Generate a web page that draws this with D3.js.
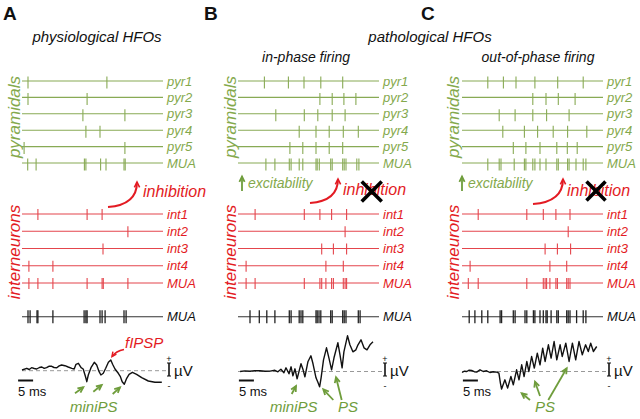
<!DOCTYPE html>
<html><head><meta charset="utf-8">
<script src="https://cdn.jsdelivr.net/npm/d3@7"></script>
<style>body{margin:0;background:#fff} svg{display:block;font-family:"Liberation Sans",Arial,sans-serif}</style>
</head><body><svg id="c" width="640" height="419"></svg>
<script>
// ---------- DATA ----------
const panelLetters = ["A", "B", "C"];
const pyrLabels = ["pyr1", "pyr2", "pyr3", "pyr4", "pyr5", "MUA"];
const intLabels = ["int1", "int2", "int3", "int4", "MUA"];
const timeDomain = [0, 47]; // ms

// spike times (ms) - panel A physiological
const pyrA = [[2, 28.3], [2, 21.7], [20.3, 34.3], [21.3, 26], [0.7, 34.3],
  [1.9, 4.7, 20.8, 21.3, 26.2, 28, 34, 34.4]];
const intA = [[5.3, 21.7, 26.7], [35.3], [27], [2.3, 10.3],
  [2.3, 5.3, 10.3, 21.7, 26.7, 27.1, 35.3]];
const muaA = [2, 2.7, 5, 5.3, 10.3, 20.7, 21.3, 21.7, 26, 26.7, 27.7, 34, 34.7];
// panel B in-phase
const pyrB = [[8.8, 16.8, 22, 27.6, 34.9], [27.3, 31.4, 35.3, 39.3], [12.6, 22.1, 26.6, 31.4, 35.7],
  [20.4, 26, 30.4, 35.1, 40.1], [17.3, 21.6, 26, 30.4, 34.9],
  [9.3, 12.3, 17.1, 17.7, 20.4, 21.6, 26, 26.4, 27.1, 30.9, 31.4, 34.9, 35.4, 36, 39.6, 40.3]];
const intB = [[5.7, 22.1, 27.3, 31.2, 36.2], [35.7], [27.9, 31.8, 36.2], [2.7, 29.3, 35.1],
  [2.7, 5.7, 22.1, 27.3, 27.9, 29.3, 31.2, 31.8, 35.1, 35.7, 36.2]];
const muaB = [4, 7.1, 9.6, 12.3, 17.1, 17.7, 20.4, 21, 21.6, 26, 26.4, 27, 27.6, 30.9, 31.4,
  34.9, 35.4, 36, 40.1, 40.7];
// panel C out-of-phase
const pyrC = [[8.6, 13.8, 18, 24.3, 31.9, 40.4], [23.6, 28, 32.1, 37.7], [12.4, 17.7, 23.6, 28.2, 35.7],
  [13.6, 20.8, 25.2, 30.4, 35.2, 41.6], [17.1, 21.3, 26, 31.6, 35.1, 38.4],
  [8.6, 12.4, 13, 17.4, 20.8, 21.3, 23.6, 24.3, 26, 28, 31.6, 32.1, 35.2, 35.7, 38, 40.4, 41.3]];
const intC = [[5.4, 21.6, 27.1, 31.3, 36], [35.4], [27.7, 31.8, 36.2], [2.7, 29.3, 34.9],
  [2.1, 5.4, 21.6, 27.1, 27.7, 28.2, 29.3, 31.3, 31.8, 34.9, 35.4, 36]];
const muaC = [2.4, 4.3, 6.6, 8.6, 12.7, 13.2, 17.1, 17.7, 21, 21.6, 23.8, 24.3, 26, 27.1, 28, 28.4,
  29.7, 31.6, 32.1, 34.9, 35.4, 36, 38.2, 40.4, 41.3];

// field potentials [ms, µV(a.u.)]
const lfpA = [[0, 0.7], [1.6, 2.4], [2.4, 1.2], [3.2, 3], [4.1, 2.2], [4.9, 1.7], [5.8, 3.2], [6.6, 3.7], [7.4, 2.3],
  [8.2, 3], [9.1, 4.6], [9.9, 4.4], [10.7, 3.2], [11.6, 3], [12.4, 4.8], [13.2, 5.7], [14.3, 5], [15.4, 3.7],
  [16.6, 2.4], [17.4, 1.7], [18, 6.4], [18.8, 7.4], [19.7, 3], [20.4, 1.7], [21.2, -6.3], [21.6, -11],
  [22.1, -4.3], [23, 3], [24.1, 8.4], [24.9, 5.7], [25.7, -1], [26.3, -4.3], [27.1, -2.6], [27.9, 2.4],
  [28.8, 8.4], [29.6, 10.7], [30.2, 6.4], [31, 1.7], [32.1, -2.6], [32.8, -6], [33.4, -11], [34.1, -13.6],
  [34.9, -7.6], [35.7, -3.6], [36.8, -1.6], [38.2, -3.6], [39.9, -7], [42.1, -10.3], [44.3, -11.6], [46.6, -11.6]];
const lfpB = [[0.7, 0], [2.3, 0.6], [4, 0.2], [5.6, 0.9], [7.3, 0.7], [9, 0.2], [10.7, 0.4], [12.3, 1.2],
  [13.3, -0.3], [14.3, 2.2], [15.3, -1.3], [16, 3.7], [17, -2.3], [17.7, 4.7], [18.3, -4.3], [19, 2.7],
  [19.7, -7.3], [20.3, -0.3], [21, 7.7], [21.7, 1.7], [22.3, -5.3], [23.3, 9.7], [24.3, 15.7], [25, 7.7],
  [26, -6.3], [26.7, -11.3], [27.2, -15.3], [27.7, -6.3], [28.5, 11.7], [29.5, 23.7], [30.3, 13.7],
  [31.2, 1.7], [32, 13.7], [33.3, 28.7], [34, 16.7], [34.7, 3.7], [35.3, 19.7], [36.5, 35.7], [37.3, 26.7],
  [38.3, 19.7], [39.3, 21.7], [40, 26.7], [41, 31.7], [42, 23.7], [43, 21.7], [44, 26.7], [45, 29.7]];
const lfpC = [[0, -1], [0.8, 0.3], [1.6, 0], [2.4, 1.4], [3.2, 1], [4.1, -0.2], [4.9, -0.6], [6, 1.7],
  [7.1, 0], [8.2, 0.7], [9.3, -1], [10.4, -0.3], [11.6, -0.6], [12.3, -1.6], [12.8, -11.6], [13.2, -17.6],
  [14.3, -8.3], [15.2, -16.6], [16.3, -5], [17.1, -13.3], [18.2, 1.7], [19, -8.3], [19.9, 6.7], [20.7, -5],
  [21.6, 10], [22.3, 0], [23.2, 15], [24.1, 3.4], [25.1, 18.4], [26, 6.7], [26.9, 23.4], [27.7, 10],
  [28.8, 26.7], [29.7, 13.4], [30.7, 30], [31.6, 11.7], [32.7, 26.7], [33.4, 15], [34.6, 28.4], [35.7, 10],
  [36.8, 28.4], [37.9, 11.7], [39, 30], [40.1, 16.7], [41.2, 26.7], [42.1, 20], [42.9, 28.4], [43.8, 20],
  [44.9, 25]];

// ---------- DRAWING ----------
const GREEN = "#88aa55", GREEN_T = "#84a94c", GREEN_A = "#6f9d3c";
const RED = "#e4454c", RED_T = "#e31b23";
const svg = d3.select("#c");

const yPyr = d3.scalePoint().domain(pyrLabels).range([81, 163]);
const yInt = d3.scalePoint().domain(intLabels).range([214, 283]);
const yMua = 316.7;

function arrowHead(g, x1, y1, x2, y2, color, len, w) {
  const a = Math.atan2(y2 - y1, x2 - x1), s = 0.45;
  const p1 = [x2 - len * Math.cos(a - s), y2 - len * Math.sin(a - s)];
  const p2 = [x2 - len * Math.cos(a + s), y2 - len * Math.sin(a + s)];
  g.append("path").attr("d", `M${p1}L${x2},${y2}L${p2}`).attr("fill", "none")
    .attr("stroke", color).attr("stroke-width", w).attr("stroke-linejoin", "miter");
}
function arrow(g, x1, y1, x2, y2, color, w = 1.8, len = 6) {
  g.append("line").attr("x1", x1).attr("y1", y1).attr("x2", x2).attr("y2", y2)
    .attr("stroke", color).attr("stroke-width", w);
  arrowHead(g, x1, y1, x2, y2, color, len, w);
}

function drawRaster(g, x, yScale, labels, spikes, lineColor, textColor, t0, t1) {
  labels.forEach((lab, i) => {
    const y = yScale(lab);
    g.append("line").attr("x1", x(timeDomain[0])).attr("x2", x(timeDomain[1]))
      .attr("y1", y).attr("y2", y).attr("stroke", lineColor).attr("stroke-width", 1.1);
    g.selectAll(null).data(spikes[i]).enter().append("line")
      .attr("x1", d => x(d)).attr("x2", d => x(d))
      .attr("y1", y + t0).attr("y2", y + t1)
      .attr("stroke", lineColor).attr("stroke-width", 1.1);
    g.append("text").attr("x", x(timeDomain[1]) + 4).attr("y", y + 4.6)
      .attr("font-size", 13).attr("font-style", "italic").attr("fill", textColor).text(lab);
  });
}

const cfgs = [
  {x0: 22, pyr: pyrA, int: intA, mua: muaA, lfp: lfpA, base: 370.7, vx: 20, title: true},
  {x0: 238, pyr: pyrB, int: intB, mua: muaB, lfp: lfpB, base: 371.5, vx: 236},
  {x0: 462, pyr: pyrC, int: intC, mua: muaC, lfp: lfpC, base: 371.5, vx: 459}
];

cfgs.forEach((c, pi) => {
  const g = svg.append("g");
  const x = d3.scaleLinear().domain(timeDomain).range([c.x0, c.x0 + 141]);
  drawRaster(g, x, yPyr, pyrLabels, c.pyr, GREEN, GREEN_T, -4.5, 7.5);
  drawRaster(g, x, yInt, intLabels, c.int, RED, RED_T, -5, 6);
  // black MUA
  g.append("line").attr("x1", x(0)).attr("x2", x(timeDomain[1])).attr("y1", yMua).attr("y2", yMua)
    .attr("stroke", "#333").attr("stroke-width", 1.1);
  g.selectAll(null).data(c.mua).enter().append("line")
    .attr("x1", d => x(d)).attr("x2", d => x(d)).attr("y1", yMua - 6.5).attr("y2", yMua + 6.5)
    .attr("stroke", "#222").attr("stroke-width", 1.3);
  g.append("text").attr("x", x(timeDomain[1]) + 4).attr("y", yMua + 4.6).attr("font-size", 13)
    .attr("font-style", "italic").attr("fill", "#111").text("MUA");
  // vertical labels
  g.append("text").attr("transform", `translate(${c.vx},117) rotate(-90)`).attr("text-anchor", "middle")
    .attr("font-size", 17).attr("font-style", "italic").attr("fill", GREEN_T).text("pyramidals");
  g.append("text").attr("transform", `translate(${c.vx},252) rotate(-90)`).attr("text-anchor", "middle")
    .attr("font-size", 17).attr("font-style", "italic").attr("fill", RED_T).text("interneurons");
  // LFP
  const yv = d3.scaleLinear().domain([-20, 40]).range([c.base + 20, c.base - 40]);
  const barX = x(timeDomain[1]) + 6;
  g.append("line").attr("x1", x(0)).attr("x2", barX - 3).attr("y1", yv(0)).attr("y2", yv(0))
    .attr("stroke", "#999").attr("stroke-width", 1).attr("stroke-dasharray", "4,3");
  g.append("path").datum(c.lfp).attr("d", d3.line().x(d => x(d[0])).y(d => yv(d[1])))
    .attr("fill", "none").attr("stroke", "#111").attr("stroke-width", 1.4).attr("stroke-linejoin", "round");
  // time scale bar 5 ms
  const sb0 = pi === 0 ? -1.3 : 0.3;
  g.append("line").attr("x1", x(sb0)).attr("x2", x(sb0 + 5)).attr("y1", 380.5).attr("y2", 380.5)
    .attr("stroke", "#111").attr("stroke-width", 2);
  g.append("text").attr("x", x(sb0)).attr("y", 396).attr("font-size", 13).attr("fill", "#111").text("5 ms");
  // voltage bar
  g.append("line").attr("x1", barX).attr("x2", barX).attr("y1", 363).attr("y2", 376)
    .attr("stroke", "#111").attr("stroke-width", 1.6);
  [363, 376].forEach(yy => g.append("line").attr("x1", barX - 2).attr("x2", barX + 2).attr("y1", yy).attr("y2", yy)
    .attr("stroke", "#111").attr("stroke-width", 1));
  g.append("text").attr("x", barX).attr("y", 362).attr("text-anchor", "middle").attr("font-size", 9).attr("fill", "#111").text("+");
  g.append("text").attr("x", barX).attr("y", 389).attr("text-anchor", "middle").attr("font-size", 9).attr("fill", "#111").text("-");
  g.append("text").attr("x", barX + 5).attr("y", 376).attr("font-size", 15).attr("fill", "#111").text("µV");
});

// panel letters & titles
[[3, "A"], [204, "B"], [421, "C"]].forEach(([xx, t]) =>
  svg.append("text").attr("x", xx).attr("y", 20).attr("font-size", 19).attr("font-weight", "bold").attr("fill", "#111").text(t));
svg.append("text").attr("x", 97).attr("y", 41.5).attr("text-anchor", "middle").attr("font-size", 15)
  .attr("font-style", "italic").attr("fill", "#111").text("physiological HFOs");
svg.append("text").attr("x", 430).attr("y", 41.5).attr("text-anchor", "middle").attr("font-size", 15)
  .attr("font-style", "italic").attr("fill", "#111").text("pathological HFOs");
svg.append("text").attr("x", 306).attr("y", 62).attr("text-anchor", "middle").attr("font-size", 14)
  .attr("font-style", "italic").attr("fill", "#111").text("in-phase firing");
svg.append("text").attr("x", 538).attr("y", 62).attr("text-anchor", "middle").attr("font-size", 14)
  .attr("font-style", "italic").attr("fill", "#111").text("out-of-phase firing");

// inhibition arrows
const ann = svg.append("g");
[[108, 207, 137, 182, 143, 197], [310, 203, 338, 179, 343, 195], [533, 204, 563, 179, 567, 196]].forEach(([sx, sy, ex, ey, tx, ty]) => {
  ann.append("path").attr("d", `M${sx},${sy} Q${ex},${sy - 2} ${ex},${ey}`).attr("fill", "none")
    .attr("stroke", RED_T).attr("stroke-width", 2);
  arrowHead(ann, ex, ey + 8, ex, ey, RED_T, 6, 1.6);
  ann.append("text").attr("x", tx).attr("y", ty).attr("font-size", 16).attr("font-style", "italic")
    .attr("fill", RED_T).text("inhibition");
});
// excitability
[[242, 248], [462, 468]].forEach(([ax, tx]) => {
  arrow(ann, ax, 191, ax, 176.5, GREEN_A, 1.8, 6);
  ann.append("text").attr("x", tx).attr("y", 188).attr("font-size", 14).attr("font-style", "italic")
    .attr("fill", GREEN_T).text("excitability");
});
// X marks
[[371.7, 191.5, 10], [596, 191, 9.5]].forEach(([cx, cy, h]) => {
  ann.append("path").attr("d", `M${cx - h},${cy - h}L${cx + h},${cy + h}M${cx + h},${cy - h}L${cx - h},${cy + h}`)
    .attr("stroke", "#000").attr("stroke-width", 3.6);
});
// fIPSP
ann.append("text").attr("x", 125).attr("y", 348).attr("font-size", 15).attr("font-style", "italic")
  .attr("fill", RED_T).text("fIPSP");
ann.append("path").attr("d", "M124,349.5 Q116,351 112,356.5").attr("fill", "none").attr("stroke", RED_T).attr("stroke-width", 1.6);
arrowHead(ann, 116, 351, 112, 356.5, RED_T, 5, 1.5);
// miniPS / PS labels
[[75, 393.3, 83.3, 387.3], [93.3, 391.7, 101.7, 385], [112.7, 394, 120, 387.3],
 [291.7, 394, 296, 386], [333.3, 400, 323.3, 389.3], [341.7, 400, 336, 377.3],
 [530, 400, 521.7, 393.3], [540, 396, 535, 381.7], [548.3, 400, 566.7, 368.3]].forEach(([a, b, c2, d]) =>
  arrow(ann, a, b, c2, d, GREEN_A, 1.8, 6));
[[70, "miniPS"], [270, "miniPS"], [338, "PS"], [535, "PS"]].forEach(([tx, t]) =>
  ann.append("text").attr("x", tx).attr("y", 411.5).attr("font-size", 15).attr("font-style", "italic")
    .attr("fill", GREEN_A).text(t));
</script></body></html>
